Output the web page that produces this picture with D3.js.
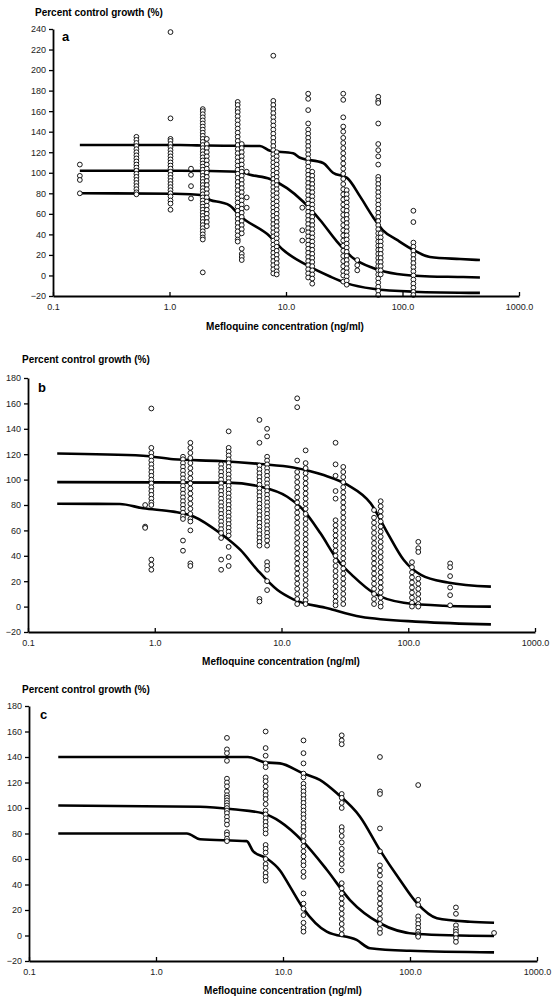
<!DOCTYPE html>
<html><head><meta charset="utf-8">
<script src="https://cdn.jsdelivr.net/npm/d3@7"></script>
<style>body{margin:0;background:#fff} text{font-family:"Liberation Sans",Arial,sans-serif}</style>
</head><body><svg id="chart" width="560" height="1003"></svg>
<script>
// ---------- shared tick data ----------
const xTicks = [0.1, 1, 10, 100, 1000];
const xTickLabels = ["0.1", "1.0", "10.0", "100.0", "1000.0"];
const yTicksA = [-20, 0, 20, 40, 60, 80, 100, 120, 140, 160, 180, 200, 220, 240];
const yTicksBC = [-20, 0, 20, 40, 60, 80, 100, 120, 140, 160, 180];
const yTitle = "Percent control growth (%)";
const xTitle = "Mefloquine concentration (ng/ml)";

// ---------- panel a ----------
const concA = [0.17, 0.52, 1.02, 1.53, 1.93, 2.09, 3.85, 4.17, 4.6, 7.78, 8.32, 13.8, 15.5, 16.8, 31, 33.2, 40.9, 61.9, 65, 124];
const valsA = [
  [108, 97, 93, 80],
  [135, 132, 129, 126, 123, 120, 117, 114, 111, 108, 105, 102, 99, 96, 93, 90, 87, 84, 81, 79],
  [237, 153, 133, 131, 128, 125, 122, 119, 116, 113, 110, 107, 104, 101, 98, 95, 92, 89, 86, 83, 80, 77, 73, 70, 64],
  [104, 98, 87, 75],
  [162, 160, 157, 154, 151, 148, 145, 142, 139, 136, 133, 130, 127, 124, 121, 118, 115, 112, 109, 106, 103, 100, 97, 94, 91, 88, 85, 82, 79, 76, 73, 70, 67, 64, 61, 58, 55, 52, 49, 46, 43, 40, 37, 35, 3],
  [133, 128, 124, 120, 116, 112, 108, 104, 100, 96, 92, 88, 84, 80, 76, 72, 68, 64, 60, 56, 52, 48],
  [169, 166, 162, 159, 155, 151, 147, 143, 139, 135, 131, 127, 123, 119, 115, 111, 107, 103, 99, 95, 91, 87, 83, 79, 75, 71, 67, 63, 59, 55, 51, 47, 43, 39, 35, 33],
  [128, 124, 120, 116, 112, 108, 104, 101, 97, 93, 89, 85, 81, 77, 73, 69, 65, 61, 57, 53, 49, 45, 41, 26, 21, 18, 15],
  [101, 76, 66],
  [214, 170, 166, 162, 158, 154, 150, 146, 142, 138, 134, 130, 126, 122, 118, 114, 110, 106, 102, 98, 94, 90, 86, 82, 78, 74, 70, 66, 62, 58, 54, 50, 46, 42, 38, 34, 30, 26, 22, 18, 14, 10, 6, 2],
  [120, 116, 112, 108, 104, 100, 96, 92, 88, 84, 80, 76, 72, 68, 64, 60, 56, 52, 48, 44, 40, 36, 32, 28, 24, 20, 16, 12, 8, 4, 1],
  [66, 44, 34],
  [177, 172, 161, 148, 142, 138, 134, 130, 126, 122, 118, 114, 110, 106, 102, 98, 94, 90, 86, 82, 78, 74, 70, 66, 62, 58, 54, 50, 46, 42, 38, 34, 30, 26, 22, 18, 14, 10, 6, 2, -2],
  [101, 97, 93, 89, 85, 81, 77, 73, 69, 65, 61, 57, 53, 49, 45, 41, 37, 33, 29, 25, 21, 17, 13, 9, 5, 1, -3, -8],
  [177, 171, 154, 145, 140, 134, 129, 124, 119, 114, 109, 104, 99, 94, 89, 84, 79, 74, 69, 64, 59, 54, 49, 44, 39, 34, 29, 24, 19, 14, 9, 4, 0, -6],
  [83, 79, 75, 71, 67, 63, 59, 55, 51, 47, 43, 39, 35, 31, 27, 23, 19, 15, 11, 7, 3, -1, -5, -9],
  [15, 10, 5],
  [174, 170, 168, 148, 128, 122, 116, 108, 96, 93, 89, 85, 81, 77, 73, 69, 65, 61, 57, 53, 49, 45, 41, 37, 33, 29, 25, 21, 17, 13, 9, 5, 1, -3, -7, -11, -15, -19],
  [41, 37, 33, 29, 25, 21, 17, 13, 9, 5, 1],
  [63, 52, 32, 28, 24, 20, 16, 12, 8, 4, 0, -4, -8, -12, -16, -19]
];
const topA = [[0.17,127],[1.23,127],[2.1,126.5],[5.98,126],[7.29,121.5],[11.5,119],[13.2,114.6],[20.8,109.5],[25.3,100],[33.4,95],[43.2,77],[55.8,57],[68,44],[89.8,34.6],[123,25],[172,18],[312,16],[462,15]];
const midA = [[0.17,102],[1.23,102],[4.03,101],[4.91,98],[7.29,94],[10.2,85],[14.0,72],[19.6,54],[27.4,33],[37.6,17],[55.8,7.3],[89.8,1.4],[172,-1],[312,-1.5],[462,-2]];
const botA = [[0.17,80],[1.1,79.5],[2.0,78],[2.23,73.5],[2.8,71],[3.3,68],[4.03,58],[7.29,38],[9.42,25],[15.1,10],[23.9,-1],[33.4,-7.7],[55.8,-13],[123,-15.8],[462,-17]];

// ---------- panel b ----------
const concB = [0.84, 0.94, 1.67, 1.91, 3.34, 3.83, 6.7, 7.7, 13.3, 15.5, 26.7, 30.7, 53.7, 60.6, 107, 120, 214];
const valsB = [
  [80, 63, 62],
  [156, 125, 121, 118, 115, 112, 109, 106, 103, 100, 97, 94, 91, 88, 85, 82, 80, 37, 33, 29],
  [118, 116, 113, 110, 107, 104, 101, 98, 95, 92, 89, 86, 83, 80, 77, 74, 71, 69, 52, 44],
  [129, 125, 121, 117, 113, 109, 105, 101, 97, 93, 89, 85, 81, 77, 73, 69, 67, 60, 34, 32],
  [112, 109, 106, 103, 100, 97, 94, 91, 88, 85, 82, 79, 76, 73, 70, 67, 64, 61, 58, 54, 37, 29],
  [138, 125, 122, 119, 116, 113, 110, 107, 104, 101, 98, 95, 92, 89, 86, 83, 80, 77, 74, 71, 68, 65, 62, 59, 56, 47, 39, 32],
  [147, 129, 111, 108, 105, 102, 99, 96, 93, 90, 87, 84, 81, 78, 75, 72, 69, 66, 63, 60, 57, 54, 51, 48, 6, 4],
  [140, 134, 118, 115, 112, 109, 106, 103, 100, 97, 94, 91, 88, 85, 82, 79, 76, 73, 70, 67, 64, 61, 58, 55, 52, 48, 35, 32, 29, 20, 13],
  [164, 157, 115, 106, 102, 98, 94, 90, 86, 82, 78, 74, 70, 66, 62, 58, 54, 50, 46, 42, 38, 34, 30, 26, 22, 18, 14, 10, 6, 2],
  [123, 113, 109, 105, 101, 97, 93, 89, 85, 81, 77, 73, 69, 65, 61, 57, 53, 49, 45, 41, 37, 33, 29, 25, 21, 17, 13, 9, 5, 2],
  [129, 112, 103, 91, 85, 68, 64, 60, 56, 52, 48, 44, 40, 36, 32, 28, 24, 20, 16, 12, 8, 4, 1],
  [110, 106, 102, 98, 94, 90, 86, 82, 78, 74, 70, 66, 62, 58, 54, 50, 46, 42, 38, 34, 30, 26, 22, 18, 14, 10, 6, 2],
  [76, 70, 66, 62, 58, 54, 50, 46, 42, 38, 34, 30, 26, 22, 18, 14, 10, 6, 2],
  [83, 79, 75, 71, 67, 63, 59, 55, 51, 47, 43, 39, 35, 31, 27, 23, 19, 15, 11, 7, 3, 0],
  [35, 31, 27, 23, 19, 15, 11, 7, 3, 0],
  [51, 46, 43, 22, 18, 14, 10, 6, 2, 0],
  [34, 31, 24, 15, 9, 1]
];
const topB = [[0.17,120.5],[0.81,118.8],[1.4,116],[3.29,114.6],[6.82,112.3],[12.4,109.6],[21.5,103.6],[33.2,95.8],[50.5,81.3],[68.9,57.7],[92.2,36.7],[126,25],[205,19],[449,15.7]];
const midB = [[0.17,98],[3.74,97.6],[6.82,94.4],[11.1,86.5],[14.9,76],[20.3,57.7],[27.7,36.7],[37.1,23.6],[53.7,10.5],[92.2,3],[191,0.7],[449,0]];
const botB = [[0.17,81],[0.53,80.8],[0.81,77.4],[1.4,74.8],[2.02,71],[3.29,57.7],[4.74,44.6],[6.46,28.8],[9.3,13],[12.4,5.7],[23.1,-1.3],[42.2,-8],[126,-12],[449,-14]];

// ---------- panel c ----------
const concC = [3.62, 7.3, 14.5, 29, 58, 116, 230, 459];
const valsC = [
  [155, 146, 143, 137, 123, 120, 117, 113, 110, 108, 106, 104, 102, 100, 98, 96, 93, 90, 87, 81, 79, 76, 74],
  [160, 147, 141, 135, 132, 124, 121, 117, 113, 110, 107, 103, 98, 95, 92, 89, 86, 83, 80, 71, 68, 65, 60, 56, 53, 49, 46, 43],
  [153, 143, 135, 127, 124, 119, 116, 113, 110, 107, 104, 101, 98, 95, 92, 88, 85, 82, 78, 74, 70, 66, 62, 58, 55, 50, 46, 33, 25, 21, 16, 10, 6, 3],
  [157, 153, 150, 111, 108, 104, 100, 85, 82, 78, 73, 68, 64, 60, 56, 51, 41, 37, 33, 29, 25, 21, 17, 13, 9, 5, 1],
  [140, 113, 111, 84, 66, 55, 51, 47, 41, 37, 33, 29, 25, 21, 17, 13, 9, 5, 2],
  [118, 28, 24, 15, 12, 9, 6, 3, 1, 0, -1],
  [22, 17, 8, 5, 3, 1, -2, -5],
  [2]
];
const topC = [[0.17,140],[5.3,140],[7.21,135.8],[9.47,135],[14.4,127.2],[19.5,122],[26.6,111.5],[40.4,93.2],[58,67],[83.4,43.5],[113.5,25.3],[163,13.5],[297,10.8],[459,10]];
const midC = [[0.17,102],[2.22,101],[4.04,99],[6.96,95.8],[9.47,89.3],[14.4,73.6],[22.2,51.4],[33.7,27.8],[58,9.6],[113.5,1.2],[459,-0.4]];
const botC = [[0.17,80],[1.75,80],[2.22,75.5],[5.17,74],[5.83,66],[7.43,60.5],[9.47,51],[11.35,38.3],[14.4,21.4],[22.1,3],[38,-3.5],[48.4,-10],[100,-12],[459,-13.2]];

// ---------- drawing ----------
const svg = d3.select("#chart");
const panels = [
  {letter:"a", x0:53, x1:519, yTop:29, yBot:296, yMax:240, yTicks:yTicksA, conc:concA, vals:valsA, curves:[topA,midA,botA],
   titleX:35, titleY:16, letterX:62, letterY:41, xTitleX:285, xTitleY:330},
  {letter:"b", x0:28, x1:535, yTop:378, yBot:632, yMax:180, yTicks:yTicksBC, conc:concB, vals:valsB, curves:[topB,midB,botB],
   titleX:22, titleY:363, letterX:38, letterY:392, xTitleX:281, xTitleY:665},
  {letter:"c", x0:29, x1:537, yTop:706, yBot:961, yMax:180, yTicks:yTicksBC, conc:concC, vals:valsC, curves:[topC,midC,botC],
   titleX:22, titleY:693, letterX:40, letterY:719, xTitleX:283, xTitleY:994}
];

panels.forEach(p => {
  const g = svg.append("g");
  const x = d3.scaleLog().domain([0.1, 1000]).range([p.x0, p.x1]);
  const y = d3.scaleLinear().domain([-20, p.yMax]).range([p.yBot, p.yTop]);

  // curves
  const line = d3.line().x(d => x(d[0])).y(d => y(d[1])).curve(d3.curveMonotoneX);
  p.curves.forEach(c => {
    g.append("path").attr("d", line(c)).attr("fill", "none")
      .attr("stroke", "#000").attr("stroke-width", 2.6).attr("stroke-linejoin", "round");
  });

  // points
  const pts = [];
  p.conc.forEach((c, i) => p.vals[i].forEach(v => pts.push([c, v])));
  g.selectAll("circle.pt").data(pts).join("circle").attr("class", "pt")
    .attr("cx", d => x(d[0])).attr("cy", d => y(d[1])).attr("r", 2.4)
    .attr("fill", "#fff").attr("stroke", "#000").attr("stroke-width", 0.9);

  // axes
  const ya = g.append("g").attr("transform", `translate(${p.x0},0)`)
    .call(d3.axisLeft(y).tickValues(p.yTicks).tickSizeInner(4).tickSizeOuter(0).tickPadding(3));
  const xa = g.append("g").attr("transform", `translate(0,${p.yBot})`)
    .call(d3.axisBottom(x).tickValues(xTicks).tickFormat((d, i) => xTickLabels[i]).tickSizeInner(-4).tickSizeOuter(0).tickPadding(8));
  [ya, xa].forEach(a => {
    a.select(".domain").attr("stroke", "#000").attr("stroke-width", 1.8);
    a.selectAll(".tick line").attr("stroke", "#000").attr("stroke-width", 1.3);
    a.selectAll(".tick text").attr("font-size", 9).attr("fill", "#222")
      .attr("font-family", "'Liberation Sans', Arial, sans-serif");
  });

  // titles
  g.append("text").attr("x", p.titleX).attr("y", p.titleY).text(yTitle)
    .attr("font-size", 10).attr("font-weight", "bold");
  g.append("text").attr("x", p.xTitleX).attr("y", p.xTitleY).text(xTitle)
    .attr("font-size", 10).attr("font-weight", "bold").attr("text-anchor", "middle");
  g.append("text").attr("x", p.letterX).attr("y", p.letterY).text(p.letter)
    .attr("font-size", 13).attr("font-weight", "bold");
});
</script>
</body></html>
